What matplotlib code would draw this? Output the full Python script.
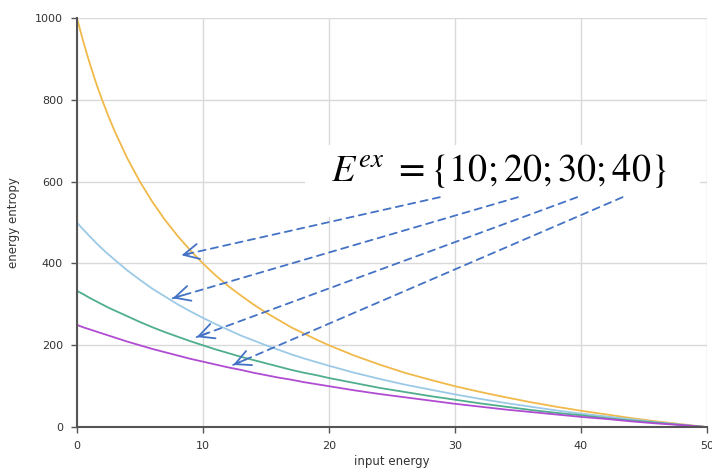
import matplotlib.pyplot as plt
from matplotlib.patches import Rectangle

# input energy samples
x = [0, 0.5, 1, 1.5, 2, 2.5, 3, 4, 5, 6, 7, 8, 9, 10, 11, 12, 13, 14, 15,
     16, 17, 18, 19, 20, 22, 24, 26, 28, 30, 32, 34, 36, 38, 40, 42, 44,
     46, 48, 50]
# energy entropy for E^ex = 10, 20, 30, 40
e10 = [1000, 943, 891, 843, 800, 760, 723, 657, 600, 550, 506, 467, 432,
       400, 371, 345, 322, 300, 280, 262, 244, 229, 214, 200, 175, 153, 133,
       116, 100, 86, 73, 61, 50, 40, 31, 22, 14, 7, 0]
e20 = [500, 483, 467, 451, 436, 422, 409, 383, 360, 338, 319, 300, 283,
       267, 252, 238, 224, 212, 200, 189, 178, 168, 159, 150, 133, 118, 104,
       92, 80, 69, 59, 50, 41, 33, 26, 19, 12, 6, 0]
e30 = [333, 325, 316, 308, 300, 292, 285, 271, 257, 244, 232, 221, 210,
       200, 190, 181, 172, 164, 156, 148, 140, 133, 127, 120, 108, 96, 86,
       76, 67, 58, 50, 42, 35, 29, 22, 16, 11, 5, 0]
e40 = [250, 244, 239, 234, 229, 224, 219, 209, 200, 191, 183, 175, 167,
       160, 153, 146, 140, 133, 127, 121, 116, 110, 105, 100, 90, 81, 73,
       65, 57, 50, 43, 37, 31, 25, 20, 14, 9, 5, 0]

# arrow tails (at the label) and heads (on the curves)
arrow_from = [(28.8, 562), (35.0, 562), (39.7, 562), (43.3, 562)]
arrow_to = [(8.3, 420), (7.6, 315), (9.5, 220), (12.4, 152)]

plt.rcParams['mathtext.fontset'] = 'stix'
fig = plt.figure(figsize=(7.12, 4.73), dpi=100)
ax = fig.add_axes([0.108, 0.097, 0.885, 0.865])

ax.plot(x, e10, color='#F0B94A', lw=1.3)
ax.plot(x, e20, color='#9CC9E6', lw=1.3)
ax.plot(x, e30, color='#4FAE8C', lw=1.3)
ax.plot(x, e40, color='#B04CD2', lw=1.3)

ax.set_xlim(0, 50)
ax.set_ylim(0, 1000)
ax.set_xticks(range(0, 51, 10))
ax.set_yticks(range(0, 1001, 200))
ax.grid(True, color='#d9d9d9', lw=1)
ax.set_axisbelow(True)
for s in ['top', 'right']:
    ax.spines[s].set_visible(False)
for s in ['left', 'bottom']:
    ax.spines[s].set_color('#555555')
    ax.spines[s].set_linewidth(1.5)
ax.tick_params(direction='out', length=4, width=1, color='#555555',
               labelsize=8, labelcolor='#333333', pad=6)
ax.set_xlabel('input energy', fontsize=8.5, color='#333333', labelpad=3)
ax.set_ylabel('energy entropy', fontsize=8.5, color='#333333', labelpad=11)

# white box behind the label (hides the grid)
ax.add_patch(Rectangle((0.362, 0.513), 0.627, 0.176, transform=ax.transAxes,
                       facecolor='white', edgecolor='none', zorder=0.9))
ax.text(33.5, 601, r'$E^{ex}\ =\{10;20;30;40\}$', fontsize=27.5,
        va='baseline', ha='center', zorder=3)

for (x0, y0), (x1, y1) in zip(arrow_from, arrow_to):
    ax.annotate('', xy=(x1, y1), xytext=(x0, y0),
                arrowprops=dict(arrowstyle='-', color='#4472C4', lw=1.3,
                                ls=(0, (4, 3)), shrinkA=0, shrinkB=0))
    hx = x1 + 0.03 * (x0 - x1)
    hy = y1 + 0.03 * (y0 - y1)
    ax.annotate('', xy=(x1, y1), xytext=(hx, hy),
                arrowprops=dict(arrowstyle='->,head_length=1.1,head_width=0.55',
                                color='#4472C4', lw=1.3, shrinkA=0, shrinkB=0))

fig.savefig('out.png', dpi=100)
